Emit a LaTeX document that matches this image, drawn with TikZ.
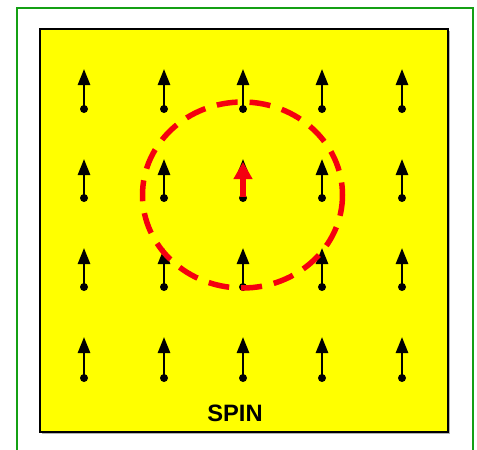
\documentclass[tikz,border=0pt]{standalone}
\usepackage{fontspec}
\setmainfont{Liberation Sans}
\usetikzlibrary{arrows.meta}
\definecolor{frameGreen}{RGB}{20,160,20}
\definecolor{boxYellow}{RGB}{255,255,0}
\definecolor{ringRed}{RGB}{245,0,15}
\tikzset{
  spinarrow/.style={line width=2.6pt,-{Triangle[length=16pt,width=12pt]}},
  spindot/.style={fill=black,draw=none},
  bigarrow/.style={ringRed,line width=6.5pt,-{Triangle[length=17pt,width=18pt]}},
  ring/.style={ringRed,line width=5.5pt,dash pattern=on 21pt off 12pt},
}
\begin{document}
\begin{tikzpicture}[x=1pt,y=-1pt]
\useasboundingbox (0,0) rectangle (477,450);
\fill[white] (0,0) rectangle (477,450);
% green frame
\draw[frameGreen,line width=1.8pt] (17,460) -- (17,8) -- (473,8) -- (473,460);
% yellow box
\fill[gray!60] (42,31) rectangle (450,434);
\draw[fill=boxYellow,line width=2pt] (40,29) rectangle (448,432);
% spins
\foreach \x in {84,164,243,322,402}{
  \foreach \ytop/\ybot in {69/109,159/198,248/287,337/378}{
    \coordinate (b-\x-\ybot) at (\x,\ybot);
    \coordinate (t-\x-\ybot) at (\x,\ytop);
    \draw[spinarrow] (b-\x-\ybot) -- (t-\x-\ybot);
    \fill[spindot] (b-\x-\ybot) circle (4);
  }
}
% central red spin
\coordinate (rb) at (243,197);
\coordinate (rt) at (243,162);
\draw[bigarrow] (rb) -- (rt);
% dashed ring
\draw[ring] (242.5,195) ellipse (100 and 93);
% label
\node[font=\bfseries,text=black,inner sep=0pt] (spin) at (235,413.5) {\fontsize{23.7}{24}\selectfont SPIN};
\end{tikzpicture}
\end{document}
